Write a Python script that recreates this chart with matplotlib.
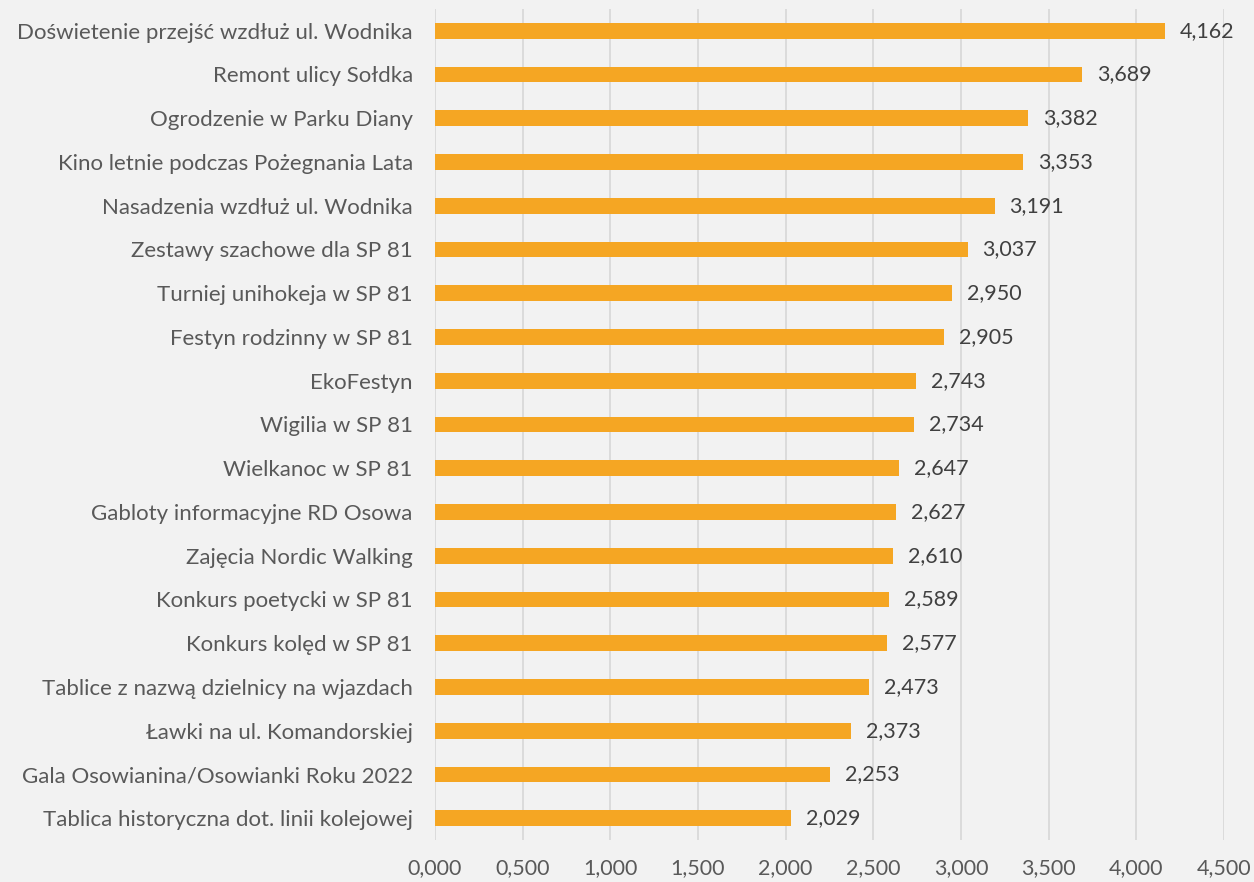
import matplotlib.pyplot as plt
from matplotlib.ticker import FuncFormatter

categories = [
    "Doświetenie przejść wzdłuż ul. Wodnika",
    "Remont ulicy Sołdka",
    "Ogrodzenie w Parku Diany",
    "Kino letnie podczas Pożegnania Lata",
    "Nasadzenia wzdłuż ul. Wodnika",
    "Zestawy szachowe dla SP 81",
    "Turniej unihokeja w SP 81",
    "Festyn rodzinny w SP 81",
    "EkoFestyn",
    "Wigilia w SP 81",
    "Wielkanoc w SP 81",
    "Gabloty informacyjne RD Osowa",
    "Zajęcia Nordic Walking",
    "Konkurs poetycki w SP 81",
    "Konkurs kolęd w SP 81",
    "Tablice z nazwą dzielnicy na wjazdach",
    "Ławki na ul. Komandorskiej",
    "Gala Osowianina/Osowianki Roku 2022",
    "Tablica historyczna dot. linii kolejowej",
]
values = [4.162, 3.689, 3.382, 3.353, 3.191, 3.037, 2.950, 2.905, 2.743, 2.734,
          2.647, 2.627, 2.610, 2.589, 2.577, 2.473, 2.373, 2.253, 2.029]
xticks = [0, 0.5, 1.0, 1.5, 2.0, 2.5, 3.0, 3.5, 4.0, 4.5]

plt.rcParams['font.family'] = ['Lato', 'DejaVu Sans']

bg = '#F2F2F2'
bar_color = '#F5A623'

fig = plt.figure(figsize=(12.54, 8.82), dpi=100, facecolor=bg)
ax = fig.add_axes([0.3469, 0.0476, 0.6292, 0.9424], facecolor=bg)

y = list(range(len(categories)))
ax.barh(y, values, height=0.36, color=bar_color, zorder=3)

# value labels, comma as decimal sign
for yi, v in zip(y, values):
    ax.text(v + 0.085, yi, f"{v:.3f}".replace('.', ','), va='center', ha='left',
            fontsize=15.5, color='#404040')

ax.set_yticks(y)
ax.set_yticklabels(categories, fontsize=16, color='#595959')
ax.set_ylim(len(categories) - 0.5, -0.5)
ax.set_xlim(0, 4.5)
ax.set_xticks(xticks)
ax.xaxis.set_major_formatter(FuncFormatter(lambda x, _: f"{x:.3f}".replace('.', ',')))
ax.tick_params(axis='x', labelsize=15.5, labelcolor='#595959', length=0, pad=13)
ax.tick_params(axis='y', length=0, pad=16)

ax.grid(axis='x', color='#D9D9D9', linewidth=1.3, zorder=0)
for s in ax.spines.values():
    s.set_visible(False)

fig.savefig('out.png', dpi=100, facecolor=bg)
